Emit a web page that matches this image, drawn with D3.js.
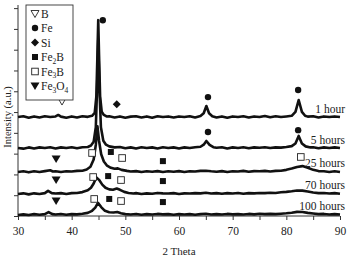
<!DOCTYPE html>
<html>
<head>
<meta charset="utf-8">
<script src="https://cdn.jsdelivr.net/npm/d3@7"></script>
<style>
body { margin: 0; background: #fff; }
svg text { font-family: "Liberation Serif", "Times New Roman", serif; fill: #222; }
</style>
</head>
<body>
<svg width="348" height="258"></svg>
<script>
// x-ray patterns, [2 theta, intensity above own baseline] (a.u.)
var times = ["1 hour", "5 hours", "25 hours", "70 hours", "100 hours"];
var offsets = [47.6, 32.7, 21.2, 10.6, 0.5];

var s1 = [[30,0],[31,0.4],[32,-0.3],[33,0.3],[34,-0.2],[35,0.4],[36,0],[37,0.3],[37.5,1.0],[38,0.2],[39,-0.3],[40,0.3],[41,-0.2],[42,0.4],[43,0.1],[43.8,0.6],[44.3,2],[44.6,10],[44.8,30],[44.95,46.6],[45.1,30],[45.3,10],[45.6,2.5],[46,1],[46.5,0.3],[47,0.4],[48,-0.2],[49,0.3],[50,-0.3],[51,0.2],[52,0.4],[53,-0.2],[54,0.3],[55,-0.3],[56,0.4],[57,0],[58,0.3],[59,-0.2],[60,0.3],[61,0],[62,0.4],[63,-0.2],[64,0.5],[64.6,1.8],[65.1,5.3],[65.6,1.8],[66.2,0.4],[67,-0.2],[68,0.3],[69,-0.3],[70,0.3],[71,0],[72,0.4],[73,-0.2],[74,0.3],[75,0],[76,0.5],[77,-0.1],[78,0.4],[79,0],[80,0.3],[81,0.6],[81.7,2.5],[82.3,8.2],[82.9,2.5],[83.5,0.6],[84,0.2],[85,0.4],[86,-0.2],[87,0.3],[88,0],[89,0.3],[90,0]];
var s5 = [[30,0],[31,-0.3],[32,0.3],[33,-0.2],[34,0.3],[35,0],[36,0.4],[37,-0.2],[38,0.3],[39,0],[40,0.4],[41,-0.1],[42,0.4],[43,0.5],[43.6,1.2],[44.1,3],[44.5,10],[44.75,30],[44.95,52],[45.15,30],[45.45,10],[45.9,3.5],[46.4,1.6],[47,0.8],[48,0.3],[49,0.5],[50,-0.1],[51,0.3],[52,-0.2],[53,0.4],[54,0],[55,0.3],[56,-0.2],[57,0.4],[58,0],[59,0.3],[60,-0.2],[61,0.3],[62,0],[63,0.4],[64,0.6],[64.6,1.6],[65.1,3.4],[65.7,1.5],[66.4,0.4],[67,0.1],[68,0.4],[69,-0.2],[70,0.3],[71,0],[72,0.4],[73,-0.1],[74,0.3],[75,0.1],[76,0.4],[77,0],[78,0.3],[79,0.2],[80,0.5],[81,0.9],[81.7,2.2],[82.3,5.8],[82.9,2.2],[83.6,0.8],[84.5,0.3],[85,0.4],[86,-0.1],[87,0.3],[88,0],[89,0.3],[90,0]];
var s25 = [[30,0],[31,0.3],[32,-0.2],[33,0.3],[34,0],[35,0.4],[36,0.8],[36.5,0.2],[37,0.3],[38,0],[39,0.3],[40,0.2],[41,0.5],[42,0.6],[42.8,1.2],[43.5,2.5],[44.1,6],[44.5,13],[44.8,22],[45.1,15],[45.5,8.5],[46,5],[46.6,3],[47.3,2],[48,1.5],[48.6,1.7],[49.3,1],[50.3,0.5],[51,0.2],[52,0.4],[53,0],[54,0.3],[55,0.1],[56,0.4],[57,0],[58,0.3],[59,0.1],[60,0.4],[61,0],[62,0.3],[63,0.2],[64,0.5],[65,0.6],[66,0.3],[67,0.1],[68,0.4],[69,0],[70,0.3],[71,0.2],[72,0.5],[73,0.1],[74,0.4],[75,0.3],[76,0.5],[77,0.2],[78,0.5],[79,0.6],[80,1],[81,1.6],[82,2.4],[83,2.8],[84,2],[85,1],[86,0.4],[87,0.3],[88,0],[89,0.3],[90,0]];
var s70 = [[30,0],[31,0.3],[32,-0.2],[33,0.3],[34,0],[35,0.4],[35.6,1.5],[36.3,0.4],[37,0.2],[38,0.4],[39,0],[40,0.4],[41,0.5],[42,0.9],[43,1.8],[43.6,3],[44.1,5],[44.6,8],[45.1,6.8],[45.7,4.5],[46.3,3],[47,2.2],[47.7,2],[48.4,2.6],[49,2],[49.8,1],[50.6,0.5],[51.5,0.2],[52,0.4],[53,0],[54,0.3],[55,0.1],[56,0.5],[57,0.3],[58,0.2],[59,0.4],[60,0],[61,0.3],[62,0.2],[63,0.4],[64,0.3],[65,0.6],[66,0.2],[67,0.4],[68,0.1],[69,0.4],[70,0.2],[71,0.5],[72,0.1],[73,0.4],[74,0.3],[75,0.5],[76,0.4],[77,0.6],[78,0.5],[79,0.8],[80,1],[81,1.3],[82,1.7],[83,1.6],[84,1.2],[85,0.7],[86,0.4],[87,0.5],[88,0.2],[89,0.4],[90,0.1]];
var s100 = [[30,0],[31,0.3],[32,0],[33,0.4],[34,0.1],[35,0.4],[35.7,1.4],[36.4,0.4],[37,0.2],[38,0.5],[39,0.1],[40,0.4],[41,0.3],[42,0.6],[43,1],[43.8,2],[44.4,3.5],[44.9,5.8],[45.5,3.8],[46.2,2],[47,1.3],[47.8,1.2],[48.5,1.4],[49.2,0.8],[50,0.4],[51,0.2],[52,0.5],[53,0.1],[54,0.4],[55,0.2],[56,0.5],[57,0.3],[58,0.4],[59,0.1],[60,0.4],[61,0.2],[62,0.4],[63,0.1],[64,0.4],[65,0.6],[66,0.2],[67,0.4],[68,0.2],[69,0.5],[70,0.3],[71,0.4],[72,0.2],[73,0.5],[74,0.3],[75,0.6],[76,0.4],[77,0.5],[78,0.4],[79,0.6],[80,0.8],[81,1.1],[82,1.5],[83,1.4],[84,1],[85,0.7],[86,0.4],[87,0.5],[88,0.2],[89,0.4],[90,0.2]];
var series = [s1, s5, s25, s70, s100];

// phase markers: [symbol, 2 theta, intensity]
var markers = [
    ["B", 38.2, 55.3], ["Fe", 45.8, 94.2], ["Si", 48.4, 53.8], ["Fe", 65.4, 57.2], ["Fe", 82.2, 60.6],
    ["Fe", 65.4, 40.4], ["Fe", 82.2, 41.3],
    ["Fe3O4", 37.1, 27.4], ["Fe3B", 43.8, 30.3], ["Fe2B", 47.3, 30.8], ["Fe3B", 49.4, 27.9], ["Fe2B", 57.0, 26.4], ["Fe3B", 82.7, 28.4],
    ["Fe3O4", 37.1, 17.3], ["Fe3B", 44.0, 18.75], ["Fe2B", 46.8, 19.2], ["Fe3B", 49.2, 17.3], ["Fe2B", 57.0, 16.8],
    ["Fe3O4", 37.1, 7.2], ["Fe3B", 44.2, 8.2], ["Fe2B", 47.0, 8.2], ["Fe3B", 49.2, 7.2], ["Fe2B", 57.0, 6.7]
];
var phases = ["B", "Fe", "Si", "Fe2B", "Fe3B", "Fe3O4"];
var xTicks = [30, 40, 50, 60, 70, 80, 90];

var svg = d3.select("svg");
var x = d3.scaleLinear().domain([30, 90]).range([18, 340]);
var y = d3.scaleLinear().domain([0, 101.5]).range([216, 5]);
var ink = "#333";

// axes
var gx = svg.append("g").attr("transform", "translate(0,216)")
    .call(d3.axisBottom(x).tickValues(d3.range(30, 91, 5)).tickSize(4).tickFormat(function(d){
        return xTicks.indexOf(d) >= 0 ? d : "";
    }));
gx.selectAll("text").attr("font-size", 11.5).attr("dy", "1em").style("fill", "#222");
var gy = svg.append("g").attr("transform", "translate(18,0)")
    .call(d3.axisLeft(y).tickValues(d3.range(0, 101, 10)).tickSize(4).tickFormat(""));
svg.selectAll(".domain, .tick line").attr("stroke", ink);
gx.select(".domain").attr("d", "M18,0H340");
gy.select(".domain").attr("d", "M0,216V5");

svg.append("text").attr("x", 179).attr("y", 255).attr("text-anchor", "middle")
    .attr("font-size", 11).text("2 Theta");
svg.append("text").attr("transform", "translate(11,117) rotate(-90)").attr("text-anchor", "middle")
    .attr("font-size", 10.5).text("Intensity (a.u.)");

// traces
var line = d3.line();
series.forEach(function(s, i){
    svg.append("path")
        .attr("d", line(s.map(function(p){ return [x(p[0]), y(p[1] + offsets[i])]; })))
        .attr("fill", "none")
        .attr("stroke", "#111")
        .attr("stroke-width", 2.6)
        .attr("stroke-linejoin", "round");
    svg.append("text")
        .attr("x", 345)
        .attr("y", y(offsets[i]) - 4.5)
        .attr("text-anchor", "end")
        .attr("font-size", 11.5)
        .text(times[i]);
});

function drawSymbol(g, name, cx, cy){
    switch(name){
        case "B":
            g.append("path").attr("d", "M" + (cx-4) + "," + (cy-3) + "L" + (cx+4) + "," + (cy-3) + "L" + cx + "," + (cy+4) + "Z")
                .attr("fill", "#fff").attr("stroke", "#222").attr("stroke-width", 0.9);
            break;
        case "Fe":
            g.append("circle").attr("cx", cx).attr("cy", cy).attr("r", 3.2).attr("fill", "#111");
            break;
        case "Si":
            g.append("path").attr("d", "M" + cx + "," + (cy-4) + "L" + (cx+4) + "," + cy + "L" + cx + "," + (cy+4) + "L" + (cx-4) + "," + cy + "Z")
                .attr("fill", "#111");
            break;
        case "Fe2B":
            g.append("rect").attr("x", cx-3).attr("y", cy-3).attr("width", 6).attr("height", 6).attr("fill", "#111");
            break;
        case "Fe3B":
            g.append("rect").attr("x", cx-3.3).attr("y", cy-3.3).attr("width", 6.6).attr("height", 6.6)
                .attr("fill", "#fff").attr("stroke", "#222").attr("stroke-width", 0.9);
            break;
        case "Fe3O4":
            g.append("path").attr("d", "M" + (cx-4.5) + "," + (cy-3.5) + "L" + (cx+4.5) + "," + (cy-3.5) + "L" + cx + "," + (cy+4) + "Z")
                .attr("fill", "#111");
            break;
    }
}

var gm = svg.append("g");
markers.forEach(function(m){
    drawSymbol(gm, m[0], x(m[1]), y(m[2]));
});

// legend
var lg = svg.append("g");
lg.append("rect").attr("x", 26).attr("y", 5).attr("width", 47).attr("height", 95)
    .attr("fill", "#fff").attr("stroke", ink).attr("stroke-width", 0.9);
phases.forEach(function(p, i){
    var cy = 13.5 + i * 14.5;
    drawSymbol(lg, p, 35, cy);
    var t = lg.append("text").attr("x", 41).attr("y", cy + 4).attr("font-size", 11.5);
    if(p === "Fe2B" || p === "Fe3B"){
        t.append("tspan").text("Fe");
        t.append("tspan").attr("font-size", 7.5).attr("dy", 2.5).text(p.charAt(2));
        t.append("tspan").attr("dy", -2.5).text("B");
    } else if(p === "Fe3O4"){
        t.append("tspan").text("Fe");
        t.append("tspan").attr("font-size", 7.5).attr("dy", 2.5).text("3");
        t.append("tspan").attr("dy", -2.5).text("O");
        t.append("tspan").attr("font-size", 7.5).attr("dy", 2.5).text("4");
    } else {
        t.text(p);
    }
});
</script>
</body>
</html>
